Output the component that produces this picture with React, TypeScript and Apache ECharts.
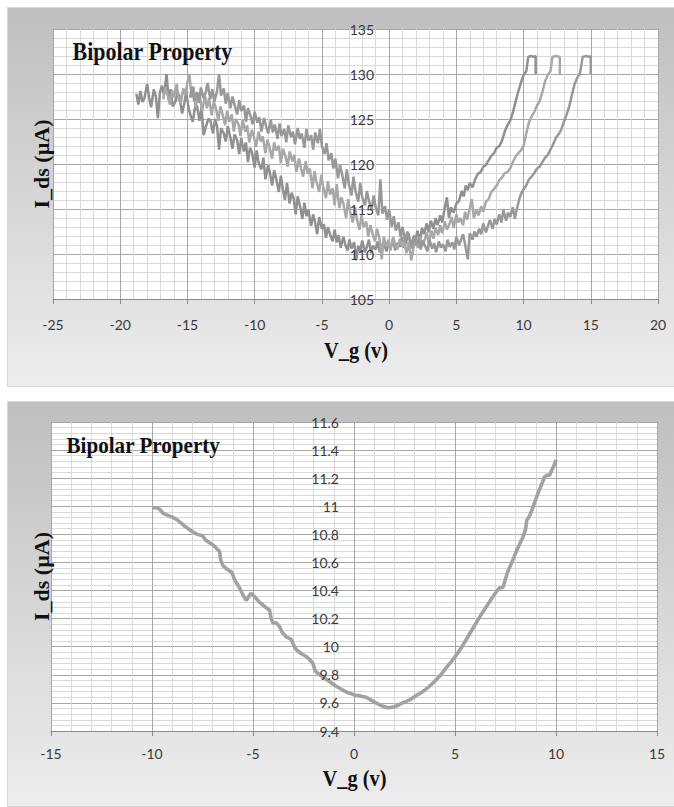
import React, { useEffect, useRef } from "react";
import * as echarts from "echarts";

// ---------- texts ----------
const TITLE = "Bipolar Property";
const X_NAME = "V_g (v)";
const Y_NAME = "I_ds (µA)";

// ---------- axis ranges / ticks ----------
const TOP_X = { min: -25, max: 20, interval: 5 };
const TOP_Y = { min: 105, max: 135, interval: 5 };
const BOT_X = { min: -15, max: 15, interval: 5 };
const BOT_Y = { min: 9.4, max: 11.6, interval: 0.2 };

// ---------- top chart: three noisy sweeps [V_g, I_ds] ----------
const topSweep1: number[][] = [
  [-18.8,127.8],[-18.65,126.6],[-18.5,128.1],[-18.35,126.9],[-18.2,127.3],[-18.0,128.9],[-17.85,127.4],[-17.7,126.3],[-17.5,128.3],[-17.35,127.5],
  [-17.2,125.1],[-17.05,127.9],[-16.9,128.7],[-16.75,127.7],[-16.55,130.0],[-16.4,127.1],[-16.25,128.3],[-16.1,126.4],[-15.9,126.9],[-15.75,127.9],
  [-15.6,127.6],[-15.4,125.6],[-15.25,126.6],[-15.1,128.0],[-14.9,126.1],[-14.75,125.3],[-14.6,124.7],[-14.45,126.2],[-14.3,126.5],[-14.1,124.8],
  [-13.95,126.3],[-13.8,123.2],[-13.6,124.3],[-13.45,125.0],[-13.3,124.9],[-13.1,123.4],[-12.95,125.0],[-12.8,124.2],[-12.65,121.6],[-12.5,124.0],
  [-12.3,123.4],[-12.15,122.5],[-12.0,124.2],[-11.8,122.9],[-11.65,121.7],[-11.5,123.3],[-11.3,122.6],[-11.15,121.1],[-11.0,122.9],[-10.8,121.4],
  [-10.65,122.4],[-10.5,120.2],[-10.35,121.8],[-10.2,121.3],[-10.0,119.6],[-9.85,121.5],[-9.7,120.1],[-9.5,119.4],[-9.35,120.7],[-9.2,118.3],
  [-9.0,119.9],[-8.85,118.9],[-8.7,117.6],[-8.55,119.3],[-8.4,118.4],[-8.2,116.9],[-8.05,118.7],[-7.9,117.2],[-7.75,116.0],[-7.6,117.9],
  [-7.4,115.6],[-7.25,116.8],[-7.1,116.2],[-6.95,114.4],[-6.8,116.4],[-6.6,115.1],[-6.45,113.9],[-6.3,115.7],[-6.15,114.2],[-6.0,114.9],
  [-5.8,113.1],[-5.65,114.4],[-5.5,113.5],[-5.35,112.2],[-5.2,114.1],[-5.0,112.8],[-4.85,113.3],[-4.7,111.8],[-4.55,113.0],[-4.4,112.2],
  [-4.2,111.4],[-4.05,112.7],[-3.9,111.3],[-3.75,112.1],[-3.6,110.7],[-3.4,111.9],[-3.25,111.0],[-3.1,110.4],[-2.95,111.6],[-2.8,110.6],
  [-2.6,111.3],[-2.45,109.3],[-2.3,110.9],[-2.15,110.3],[-2.0,111.5],[-1.8,110.2],[-1.65,110.8],[-1.5,111.6],[-1.35,110.1],[-1.2,110.9],
  [-1.0,110.5],[-0.85,111.4],[-0.7,110.2],[-0.55,110.9],[-0.4,111.3],[-0.2,110.3],[-0.05,111.1],[0.1,110.6],[0.3,111.7],[0.45,110.4],
  [0.6,111.2],[0.8,110.8],[0.95,111.9],[1.1,110.7],[1.3,111.5],[1.45,112.3],[1.6,110.9],[1.8,111.8],[1.95,111.2],[2.1,112.6],
  [2.3,111.5],[2.45,112.9],[2.6,112.2],[2.8,113.4],[2.95,112.4],[3.1,113.7],[3.3,112.8],[3.45,114.0],[3.6,113.2],[3.8,114.3],
  [3.95,113.5],[4.1,114.8],[4.3,116.3],[4.45,114.0],[4.6,115.2],[4.8,114.6],[5.0,115.6],[5.2,115.9],[5.4,117.0],[5.55,116.4],
  [5.7,117.6],[5.85,117.1],[6.0,117.9],[6.2,117.4],[6.4,118.3],[6.6,118.9],[6.8,119.1],[7.0,119.7],[7.2,119.9],[7.4,120.4],
  [7.6,120.9],[7.8,121.2],[8.0,121.8],[8.2,122.0],[8.4,122.6],[8.6,123.6],[8.8,124.3],[9.0,124.8],[9.2,125.7],[9.4,126.9],
  [9.6,128.0],[9.8,129.0],[10.0,129.9],[10.2,130.3],[10.35,131.9],[10.55,132.0],[10.75,131.9],[10.9,132.0],[10.9,130.0]
];

const topSweep2: number[][] = [
  [-16.8,127.2],[-16.65,128.5],[-16.5,127.8],[-16.3,126.6],[-16.15,128.2],[-16.0,127.4],[-15.8,128.9],[-15.65,127.1],[-15.5,126.8],[-15.3,128.4],
  [-15.15,127.6],[-15.0,129.1],[-14.85,130.0],[-14.7,127.4],[-14.55,128.6],[-14.4,126.3],[-14.2,127.9],[-14.05,127.1],[-13.9,125.9],[-13.7,127.6],
  [-13.55,126.2],[-13.4,127.3],[-13.2,125.4],[-13.05,126.9],[-12.9,126.3],[-12.7,124.8],[-12.55,126.4],[-12.4,125.6],[-12.2,124.3],[-12.05,125.9],
  [-11.9,124.7],[-11.7,125.5],[-11.55,123.6],[-11.4,125.0],[-11.2,124.4],[-11.05,123.1],[-10.9,124.9],[-10.7,123.6],[-10.55,124.3],[-10.4,122.4],
  [-10.2,123.8],[-10.05,123.0],[-9.9,121.9],[-9.7,123.6],[-9.55,122.5],[-9.4,123.1],[-9.2,121.2],[-9.05,122.7],[-8.9,121.9],[-8.7,120.6],
  [-8.55,122.4],[-8.4,121.5],[-8.2,122.0],[-8.05,120.1],[-7.9,121.7],[-7.7,120.8],[-7.55,119.7],[-7.4,121.4],[-7.2,120.3],[-7.05,121.0],
  [-6.9,119.1],[-6.7,120.6],[-6.55,119.5],[-6.4,118.6],[-6.2,120.3],[-6.05,118.9],[-5.9,119.5],[-5.7,117.3],[-5.55,119.2],[-5.4,118.0],
  [-5.2,116.9],[-5.05,118.8],[-4.9,117.4],[-4.7,116.2],[-4.55,118.1],[-4.4,116.6],[-4.2,117.3],[-4.05,115.4],[-3.9,117.8],[-3.7,115.1],
  [-3.55,116.3],[-3.4,115.6],[-3.2,114.0],[-3.05,116.1],[-2.9,114.7],[-2.7,113.5],[-2.55,115.2],[-2.4,113.9],[-2.2,112.7],[-2.05,114.3],
  [-1.9,113.0],[-1.7,113.6],[-1.55,111.9],[-1.4,113.2],[-1.2,112.1],[-1.05,111.4],[-0.9,112.8],[-0.7,111.6],[-0.55,109.4],[-0.4,111.9],
  [-0.2,110.8],[-0.05,111.6],[0.1,110.4],[0.3,111.9],[0.45,111.0],[0.6,110.5],[0.8,111.7],[0.95,110.8],[1.1,111.4],[1.3,110.1],
  [1.45,111.3],[1.65,109.3],[1.8,110.6],[1.95,111.5],[2.15,110.7],[2.3,111.9],[2.45,110.9],[2.65,111.6],[2.8,112.4],[2.95,111.2],
  [3.15,112.6],[3.3,111.7],[3.45,112.9],[3.65,112.1],[3.8,113.2],[3.95,112.3],[4.15,113.6],[4.3,112.7],[4.5,113.4],[4.65,114.1],
  [4.8,112.9],[5.0,114.4],[5.15,113.5],[5.3,114.0],[5.5,113.2],[5.65,114.7],[5.8,113.8],[6.0,115.1],[6.15,116.1],[6.3,114.0],
  [6.5,114.9],[6.65,114.3],[6.85,115.3],[7.0,114.7],[7.2,115.8],[7.4,116.1],[7.6,116.9],[7.8,117.2],[8.0,117.6],[8.2,118.2],
  [8.4,118.5],[8.6,119.0],[8.8,119.1],[9.0,119.5],[9.2,120.2],[9.4,120.8],[9.6,121.2],[9.8,121.5],[10.0,122.0],[10.2,123.4],
  [10.4,124.6],[10.6,125.3],[10.8,125.8],[11.0,126.5],[11.2,127.0],[11.4,128.0],[11.6,129.2],[11.8,129.9],[12.0,130.3],[12.15,131.9],
  [12.4,132.0],[12.7,131.9],[12.7,130.0]
];

const topSweep3: number[][] = [
  [-14.8,127.4],[-14.65,128.6],[-14.5,127.0],[-14.3,128.0],[-14.15,126.8],[-14.0,128.5],[-13.8,127.3],[-13.65,127.9],[-13.5,129.0],[-13.3,127.2],
  [-13.15,128.3],[-13.0,126.9],[-12.8,128.1],[-12.65,130.0],[-12.5,127.6],[-12.3,128.4],[-12.15,126.7],[-12.0,127.9],[-11.8,126.2],[-11.65,127.5],
  [-11.5,126.6],[-11.3,125.5],[-11.15,127.1],[-11.0,125.9],[-10.8,126.5],[-10.65,124.7],[-10.5,126.2],[-10.3,125.3],[-10.15,124.4],[-10.0,125.8],
  [-9.8,124.6],[-9.65,125.2],[-9.5,123.6],[-9.3,125.1],[-9.15,124.2],[-9.0,123.4],[-8.8,124.9],[-8.65,123.5],[-8.5,124.4],[-8.3,122.8],
  [-8.15,124.5],[-8.0,123.1],[-7.8,123.9],[-7.65,122.4],[-7.5,124.3],[-7.3,123.0],[-7.15,123.6],[-7.0,122.2],[-6.8,124.0],[-6.65,122.8],
  [-6.5,123.4],[-6.3,121.8],[-6.15,123.9],[-6.0,122.6],[-5.8,123.2],[-5.65,121.6],[-5.5,123.5],[-5.3,122.3],[-5.15,123.9],[-5.0,122.0],
  [-4.8,121.1],[-4.65,122.3],[-4.5,120.4],[-4.3,121.2],[-4.15,119.5],[-4.0,120.6],[-3.8,118.4],[-3.65,119.9],[-3.5,118.9],[-3.3,117.3],
  [-3.15,119.4],[-3.0,117.8],[-2.8,116.5],[-2.65,118.6],[-2.5,117.0],[-2.3,115.8],[-2.15,117.9],[-2.0,116.3],[-1.8,115.4],[-1.65,117.0],
  [-1.5,115.9],[-1.3,114.9],[-1.15,116.5],[-1.0,115.2],[-0.8,114.3],[-0.65,118.3],[-0.5,114.5],[-0.3,115.3],[-0.15,113.8],[0.0,114.9],
  [0.2,113.0],[0.35,114.2],[0.5,112.6],[0.7,113.5],[0.85,111.9],[1.0,113.0],[1.2,111.4],[1.35,112.5],[1.5,111.8],[1.7,110.6],
  [1.85,112.1],[2.0,111.0],[2.2,111.7],[2.35,110.5],[2.5,111.5],[2.7,110.8],[2.85,110.3],[3.0,111.6],[3.2,110.6],[3.35,111.2],
  [3.5,110.2],[3.7,111.4],[3.85,110.7],[4.0,111.1],[4.2,110.3],[4.35,111.6],[4.5,110.8],[4.7,111.3],[4.85,110.5],[5.0,111.9],
  [5.2,111.0],[5.35,111.6],[5.5,112.2],[5.65,111.1],[5.85,109.4],[6.0,112.3],[6.2,111.6],[6.35,112.5],[6.5,111.9],[6.7,112.8],
  [6.85,112.2],[7.0,113.4],[7.2,112.4],[7.35,113.1],[7.5,113.8],[7.7,112.8],[7.85,113.9],[8.0,113.3],[8.2,114.4],[8.35,113.5],
  [8.5,114.9],[8.7,113.7],[8.85,114.6],[9.0,114.1],[9.2,115.2],[9.35,113.9],[9.5,115.0],[9.7,116.2],[9.85,116.8],[10.0,117.2],
  [10.2,117.6],[10.4,118.3],[10.6,118.6],[10.8,119.0],[11.0,119.5],[11.2,119.7],[11.4,120.2],[11.6,120.7],[11.8,121.0],[12.0,121.6],
  [12.2,122.2],[12.4,122.9],[12.6,123.3],[12.8,123.8],[13.0,124.7],[13.2,125.5],[13.4,126.4],[13.6,127.7],[13.8,128.9],[14.0,129.6],
  [14.2,130.1],[14.4,131.9],[14.65,132.0],[14.9,131.9],[15.0,132.0],[15.0,130.0]
];

// ---------- bottom chart: one sweep [V_g, I_ds] ----------
const bottomSweep: number[][] = [
  [-10,10.99],[-9.8,10.99],[-9.63,10.98],[-9.45,10.95],[-9.3,10.94],[-9.13,10.93],[-8.95,10.92],[-8.72,10.9],[-8.55,10.88],[-8.4,10.86],
  [-8.3,10.85],[-8.1,10.83],[-7.9,10.81],[-7.75,10.8],[-7.5,10.79],[-7.35,10.76],[-7.15,10.74],[-6.95,10.72],[-6.8,10.7],[-6.66,10.68],
  [-6.6,10.62],[-6.5,10.58],[-6.35,10.56],[-6.17,10.54],[-6.05,10.53],[-5.92,10.48],[-5.8,10.45],[-5.67,10.42],[-5.5,10.37],[-5.34,10.33],
  [-5.2,10.36],[-5.1,10.38],[-4.95,10.36],[-4.7,10.32],[-4.45,10.29],[-4.18,10.26],[-4.1,10.2],[-4.02,10.17],[-3.85,10.17],[-3.69,10.145],
  [-3.55,10.1],[-3.4,10.08],[-3.36,10.07],[-3.2,10.06],[-3.1,10.05],[-2.95,10.0],[-2.86,9.98],[-2.6,9.95],[-2.36,9.93],[-2.2,9.91],
  [-2.03,9.88],[-1.95,9.84],[-1.87,9.82],[-1.6,9.79],[-1.4,9.77],[-1.2,9.75],[-0.9,9.72],[-0.54,9.69],[-0.25,9.67],[0.02,9.657],
  [0.3,9.65],[0.6,9.64],[0.85,9.62],[1.09,9.6],[1.35,9.58],[1.67,9.566],[1.9,9.57],[2.08,9.576],[2.4,9.6],[2.74,9.62],
  [3.05,9.65],[3.4,9.68],[3.75,9.72],[4.07,9.764],[4.3,9.8],[4.56,9.85],[4.8,9.89],[5.06,9.94],[5.3,9.99],[5.55,10.05],
  [5.8,10.11],[6.05,10.17],[6.3,10.23],[6.55,10.285],[6.8,10.34],[7.04,10.39],[7.2,10.42],[7.37,10.42],[7.6,10.53],[7.87,10.62],
  [8.1,10.7],[8.36,10.78],[8.5,10.84],[8.55,10.9],[8.69,10.93],[8.9,11.01],[9.1,11.09],[9.3,11.16],[9.43,11.21],[9.55,11.22],
  [9.68,11.22],[9.8,11.26],[9.9,11.29],[10.0,11.33]
];

const TOP_COLORS = ["#909090", "#a8a8a8", "#989898"];
const BOTTOM_COLOR = "#a2a2a2";

const G1 = { left: 53, top: 29, width: 605, height: 270 };
const G2 = { left: 51, top: 422, width: 606, height: 309 };

const LABEL_FONT = { fontFamily: "Lato, 'Open Sans', sans-serif", fontSize: 14, color: "#3a3a3a" };
const SERIF = '"Liberation Serif", "Times New Roman", serif';
const MAJOR = "#a6a6a6";
const MINOR = "#d9d9d9";
const AXIS = "#8a8a8a";

function xAxisOf(gridIndex: number, r: { min: number; max: number; interval: number }, margin: number) {
  return {
    type: "value",
    gridIndex,
    min: r.min,
    max: r.max,
    interval: r.interval,
    axisLine: { show: true, onZero: false, lineStyle: { color: AXIS, width: 1 } },
    axisTick: { show: true, inside: false, length: 5, lineStyle: { color: AXIS } },
    minorTick: { show: false, splitNumber: 5 },
    splitLine: { show: true, lineStyle: { color: MAJOR, width: 1 } },
    minorSplitLine: { show: true, lineStyle: { color: MINOR, width: 1 } },
    axisLabel: { ...LABEL_FONT, margin },
  };
}

function yGridAxisOf(gridIndex: number, r: { min: number; max: number; interval: number }) {
  return {
    type: "value",
    gridIndex,
    min: r.min,
    max: r.max,
    interval: r.interval,
    axisLine: { show: false, onZero: false },
    axisTick: { show: false },
    axisLabel: { show: false },
    minorTick: { show: false, splitNumber: 5 },
    splitLine: { show: true, lineStyle: { color: MAJOR, width: 1 } },
    minorSplitLine: { show: true, lineStyle: { color: MINOR, width: 1 } },
  };
}

function yLabelAxisOf(
  gridIndex: number,
  r: { min: number; max: number; interval: number },
  xr: { min: number; max: number },
  gridWidth: number
) {
  // labels sit at V_g = 0, like the crossing axis of the original
  const offset = -((0 - xr.min) / (xr.max - xr.min)) * gridWidth;
  return {
    type: "value",
    gridIndex,
    position: "left",
    offset,
    z: 10,
    min: r.min,
    max: r.max,
    interval: r.interval,
    axisLine: { show: false, onZero: false },
    axisTick: { show: false },
    splitLine: { show: false },
    axisLabel: { ...LABEL_FONT, margin: 15 },
  };
}

function panelGradient() {
  return new echarts.graphic.LinearGradient(0, 0, 0, 1, [
    { offset: 0, color: "#bfbfbf" },
    { offset: 1, color: "#ededed" },
  ]);
}

function hText(text: string, x: number, y: number, size: number, align: string, scaleX: number) {
  return {
    type: "text",
    z: 100,
    x,
    y,
    scaleX,
    style: {
      text,
      font: `bold ${size}px ${SERIF}`,
      fill: "#111111",
      align,
      textAlign: align,
      verticalAlign: "middle",
      textVerticalAlign: "middle",
    },
  };
}

function vText(text: string, x: number, y: number, size: number) {
  return {
    type: "text",
    z: 100,
    x,
    y,
    rotation: Math.PI / 2,
    style: {
      text,
      font: `bold ${size}px ${SERIF}`,
      fill: "#111111",
      align: "center",
      textAlign: "center",
      verticalAlign: "middle",
      textVerticalAlign: "middle",
    },
  };
}

export default function App() {
  const ref = useRef<HTMLDivElement>(null);

  useEffect(() => {
    if (!ref.current) return;
    const chart = echarts.init(ref.current, null, { renderer: "svg" });

    const topSeries = [topSweep1, topSweep2, topSweep3].map((d, i) => ({
      type: "line",
      xAxisIndex: 0,
      yAxisIndex: 0,
      data: d,
      showSymbol: false,
      symbol: "none",
      lineStyle: { color: TOP_COLORS[i], width: 2.5 },
      itemStyle: { color: TOP_COLORS[i] },
      z: 3 + i,
    }));

    const option = {
      animation: false,
      backgroundColor: "#ffffff",
      grid: [
        { ...G1, show: true, backgroundColor: "#ffffff", borderWidth: 0, containLabel: false },
        { ...G2, show: true, backgroundColor: "#ffffff", borderWidth: 0, containLabel: false },
      ],
      xAxis: [xAxisOf(0, TOP_X, 18), xAxisOf(1, BOT_X, 15)],
      yAxis: [
        yGridAxisOf(0, TOP_Y),
        yLabelAxisOf(0, TOP_Y, TOP_X, G1.width),
        yGridAxisOf(1, BOT_Y),
        yLabelAxisOf(1, BOT_Y, BOT_X, G2.width),
      ],
      series: [
        ...topSeries,
        {
          type: "line",
          xAxisIndex: 1,
          yAxisIndex: 2,
          data: bottomSweep,
          showSymbol: false,
          symbol: "none",
          lineStyle: { color: BOTTOM_COLOR, width: 3.6 },
          itemStyle: { color: BOTTOM_COLOR },
        },
      ],
      graphic: [
        {
          type: "rect",
          z: -10,
          shape: { x: 7.5, y: 7.5, width: 667, height: 379 },
          style: { fill: panelGradient(), stroke: "#d6d6d6", lineWidth: 1 },
        },
        {
          type: "rect",
          z: -10,
          shape: { x: 7.5, y: 401.5, width: 667, height: 405 },
          style: { fill: panelGradient(), stroke: "#d6d6d6", lineWidth: 1 },
        },
        hText(TITLE, 72.5, 51.5, 25, "left", 0.88),
        hText(TITLE, 66.5, 445, 24, "left", 0.88),
        hText(X_NAME, 356, 350, 24, "center", 0.85),
        hText(X_NAME, 354.5, 778, 24, "center", 0.85),
        vText(Y_NAME, 41, 164, 22),
        vText(Y_NAME, 41, 576.5, 22),
      ],
    };

    chart.setOption(option as any);
    return () => chart.dispose();
  }, []);

  return (
    <div
      ref={ref}
      style={{ position: "fixed", left: 0, top: 0, width: 674, height: 807 }}
    />
  );
}
